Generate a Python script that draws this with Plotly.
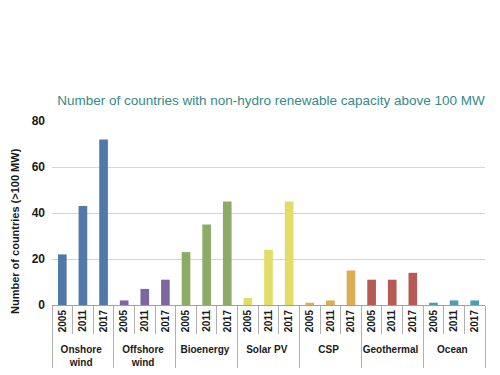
import plotly.graph_objects as go

categories = ["Onshore<br>wind", "Offshore<br>wind", "Bioenergy", "Solar PV", "CSP", "Geothermal", "Ocean"]
years = ["2005", "2011", "2017"]
values = {
    "Onshore<br>wind": [22, 43, 72],
    "Offshore<br>wind": [2, 7, 11],
    "Bioenergy": [23, 35, 45],
    "Solar PV": [3, 24, 45],
    "CSP": [1, 2, 15],
    "Geothermal": [11, 11, 14],
    "Ocean": [1, 2, 2],
}
colors = {
    "Onshore<br>wind": "#5079a8",
    "Offshore<br>wind": "#8066a0",
    "Bioenergy": "#8dab67",
    "Solar PV": "#e1dd68",
    "CSP": "#ddad55",
    "Geothermal": "#b55a55",
    "Ocean": "#4d9fb3",
}
y_title = "Number of countries (>100 MW)"

outer, inner, ys, cs = [], [], [], []
for c in categories:
    for i, y in enumerate(years):
        outer.append(c)
        inner.append(y)
        ys.append(values[c][i])
        cs.append(colors[c])

fig = go.Figure(go.Bar(x=[outer, inner], y=ys, marker_color=cs, marker_line_width=0))

FONT = "Liberation Sans, Arial, sans-serif"
W, H = 492, 367
L, R, T, B = 44, 15, 113, 70
fig.update_layout(
    width=W, height=H,
    margin=dict(l=L, r=R, t=T, b=B),
    paper_bgcolor="white", plot_bgcolor="white",
    bargap=0.58,
    showlegend=False,
    font=dict(family=FONT, color="#1a1a1a"),
    title=dict(
        text="Number of countries with non-hydro renewable capacity above 100 MW",
        x=263 / W, xanchor="center", y=1 - 92 / H, yanchor="middle",
        font=dict(family=FONT, size=13.5, color="#338a8a"),
    ),
    annotations=[dict(
        text="<b>" + y_title + "</b>", textangle=-90,
        xref="paper", yref="paper",
        x=(7 - L) / (W - L - R), y=((H - B) - 223) / (H - T - B),
        xanchor="center", yanchor="middle", showarrow=False,
        font=dict(family=FONT, size=11, color="#1a1a1a"),
    )],
)
fig.update_yaxes(
    range=[0, 80], tickvals=[0, 20, 40, 60, 80],
    showgrid=True, gridcolor="#d8d5c8", gridwidth=1,
    zeroline=False, showline=False, automargin=False,
    ticks="", ticklabelstandoff=6,
    tickfont=dict(size=12, family=FONT, color="#1a1a1a", weight="bold"),
)
fig.update_xaxes(
    type="multicategory", automargin=False,
    showline=True, linecolor="#a0a0a0", linewidth=1,
    ticks="outside", tickson="boundaries", ticklen=28, tickcolor="#b0b0b0",
    tickangle=-90,
    showdividers=True, dividercolor="#b0b0b0", dividerwidth=1,
    tickfont=dict(size=10, family=FONT, color="#1a1a1a", weight="bold"),
)

fig.write_html("out.html")
